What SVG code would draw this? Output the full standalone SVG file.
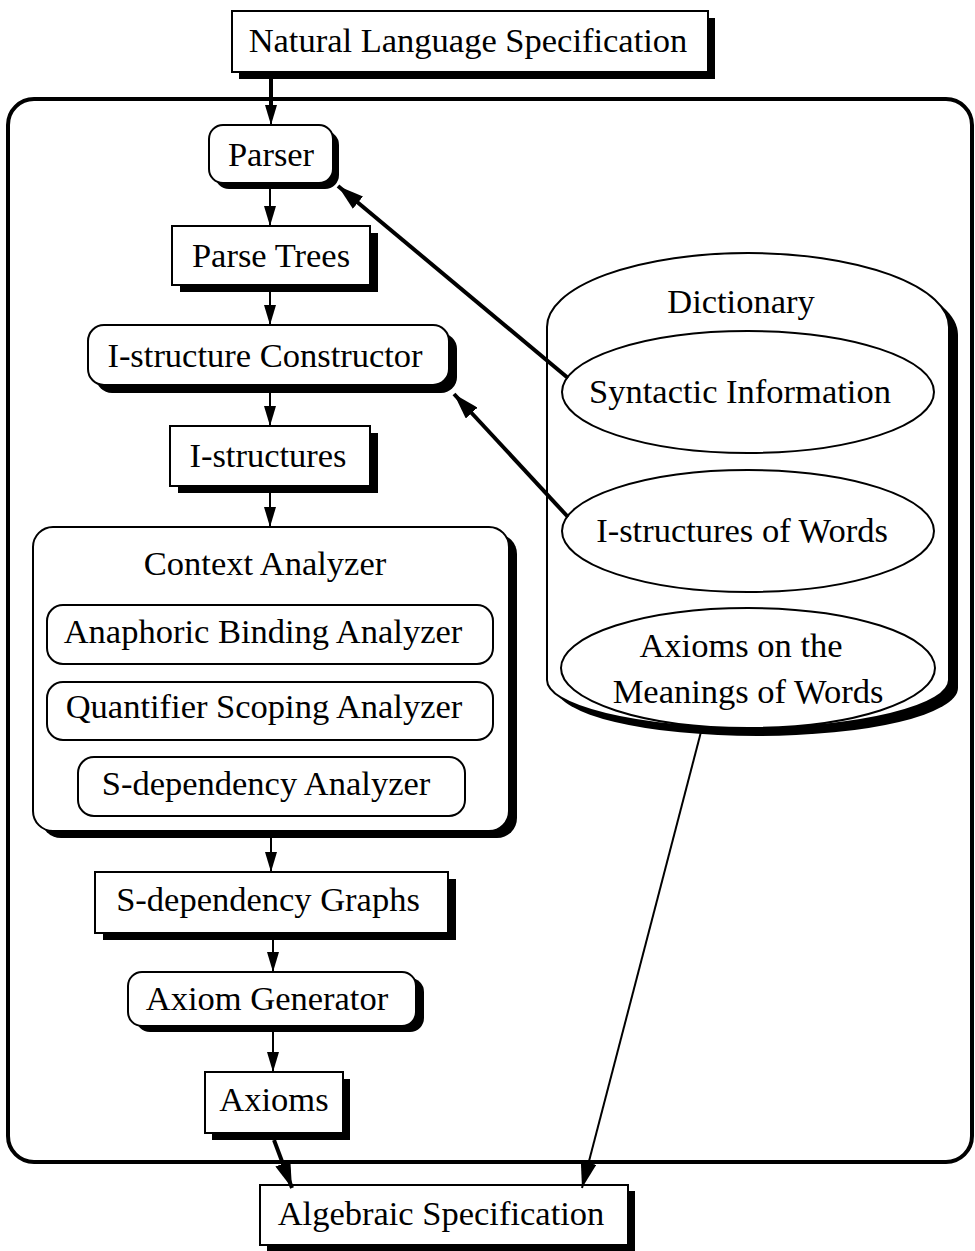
<svg xmlns="http://www.w3.org/2000/svg" width="975" height="1251" viewBox="0 0 975 1251">
<style>
text{font-family:"Liberation Serif","Times New Roman",serif;font-size:34.5px;fill:#000;text-anchor:middle}
.box{fill:#fff;stroke:#000;stroke-width:2}
.sh{fill:#000;stroke:none}
.thin{fill:#fff;stroke:#000;stroke-width:2}
.ln{stroke:#000;stroke-width:2;fill:none}
.thick{stroke:#000;stroke-width:4;fill:none}
</style>
<defs>
<marker id="ah" markerUnits="userSpaceOnUse" viewBox="0 0 20 12" refX="20" refY="6" markerWidth="20" markerHeight="12" orient="auto">
<path d="M0,0 L20,6 L0,12 Z" fill="#000"/>
</marker>
<marker id="ahb" markerUnits="userSpaceOnUse" viewBox="0 0 26 16" refX="26" refY="8" markerWidth="26" markerHeight="16" orient="auto">
<path d="M0,0 L26,8 L0,16 Z" fill="#000"/>
</marker>
</defs>

<g id="system">
<rect x="8" y="99" width="964" height="1063" rx="26" fill="none" stroke="#000" stroke-width="4"/>
</g>

<g id="nls">
<rect class="sh" x="239" y="18" width="476" height="61"/>
<rect class="box" x="232" y="11" width="476" height="61"/>
<text x="468" y="52">Natural Language Specification</text>
</g>

<g id="parser">
<rect class="sh" x="215" y="131" width="124" height="58" rx="14"/>
<rect class="box" x="209" y="125" width="124" height="58" rx="14"/>
<text x="271" y="166">Parser</text>
</g>

<g id="parse-trees">
<rect class="sh" x="180" y="233" width="198" height="59"/>
<rect class="box" x="172" y="226" width="198" height="59"/>
<text x="271" y="267">Parse Trees</text>
</g>

<g id="istructure-constructor">
<rect class="sh" x="96" y="333" width="361" height="60" rx="16"/>
<rect class="box" x="88" y="325" width="361" height="60" rx="16"/>
<text x="265" y="367">I-structure Constructor</text>
</g>

<g id="istructures">
<rect class="sh" x="178" y="433" width="200" height="60"/>
<rect class="box" x="170" y="426" width="200" height="60"/>
<text x="268" y="467">I-structures</text>
</g>

<g id="context-analyzer">
<rect class="sh" x="41" y="534" width="476" height="304" rx="20"/>
<rect class="box" x="33" y="527" width="476" height="304" rx="20"/>
<text x="265" y="575">Context Analyzer</text>
<rect class="thin" x="47" y="605" width="446" height="59" rx="16"/>
<text x="263" y="643">Anaphoric Binding Analyzer</text>
<rect class="thin" x="47" y="682" width="446" height="58" rx="16"/>
<text x="264" y="718">Quantifier Scoping Analyzer</text>
<rect class="thin" x="78" y="757" width="387" height="59" rx="16"/>
<text x="266" y="795">S-dependency Analyzer</text>
</g>

<g id="sdep-graphs">
<rect class="sh" x="103" y="879" width="353" height="61"/>
<rect class="box" x="95" y="872" width="353" height="61"/>
<text x="268" y="911">S-dependency Graphs</text>
</g>

<g id="axiom-generator">
<rect class="sh" x="136" y="978" width="288" height="54" rx="14"/>
<rect class="box" x="128" y="972" width="288" height="54" rx="14"/>
<text x="267" y="1010">Axiom Generator</text>
</g>

<g id="axioms">
<rect class="sh" x="212" y="1079" width="138" height="61"/>
<rect class="box" x="205" y="1072" width="138" height="61"/>
<text x="274" y="1111">Axioms</text>
</g>

<g id="algebraic">
<rect class="sh" x="267" y="1191" width="368" height="60"/>
<rect class="box" x="260" y="1185" width="368" height="60"/>
<text x="441" y="1225">Algebraic Specification</text>
</g>

<g id="dictionary">
<path class="sh" d="M556,335 A201,74 0 0 1 958,335 L958,688 A201,48 0 0 1 556,688 Z"/>
<path class="box" d="M547,327 A201,74 0 0 1 949,327 L949,680 A201,48 0 0 1 547,680 Z"/>
<text x="741" y="313">Dictionary</text>
<ellipse class="thin" cx="748" cy="392" rx="186" ry="61"/>
<text x="740" y="403">Syntactic Information</text>
<ellipse class="thin" cx="748" cy="531" rx="186" ry="61"/>
<text x="742" y="542">I-structures of Words</text>
<ellipse class="thin" cx="748" cy="668" rx="187" ry="60"/>
<text x="741" y="657">Axioms on the</text>
<text x="748" y="703">Meanings of Words</text>
</g>

<g id="connectors">
<line class="thick" x1="271" y1="79" x2="271" y2="105"/>
<line class="ln" x1="271" y1="100" x2="271" y2="125" marker-end="url(#ah)"/>
<line class="ln" x1="270" y1="189" x2="270" y2="226" marker-end="url(#ah)"/>
<line class="ln" x1="270" y1="292" x2="270" y2="325" marker-end="url(#ah)"/>
<line class="ln" x1="270" y1="393" x2="270" y2="426" marker-end="url(#ah)"/>
<line class="ln" x1="270" y1="493" x2="270" y2="527" marker-end="url(#ah)"/>
<line class="ln" x1="271" y1="838" x2="271" y2="872" marker-end="url(#ah)"/>
<line class="ln" x1="273" y1="940" x2="273" y2="972" marker-end="url(#ah)"/>
<line class="ln" x1="273" y1="1032" x2="273" y2="1072" marker-end="url(#ah)"/>
<line class="thick" x1="568" y1="378" x2="338" y2="186" marker-end="url(#ahb)"/>
<line class="thick" x1="568" y1="517" x2="454" y2="394" marker-end="url(#ahb)"/>
<line class="thick" x1="274" y1="1140" x2="292" y2="1188" marker-end="url(#ahb)"/>
<line class="ln" stroke-width="3" x1="702" y1="728" x2="582" y2="1188" marker-end="url(#ahb)"/>
</g>
</svg>
